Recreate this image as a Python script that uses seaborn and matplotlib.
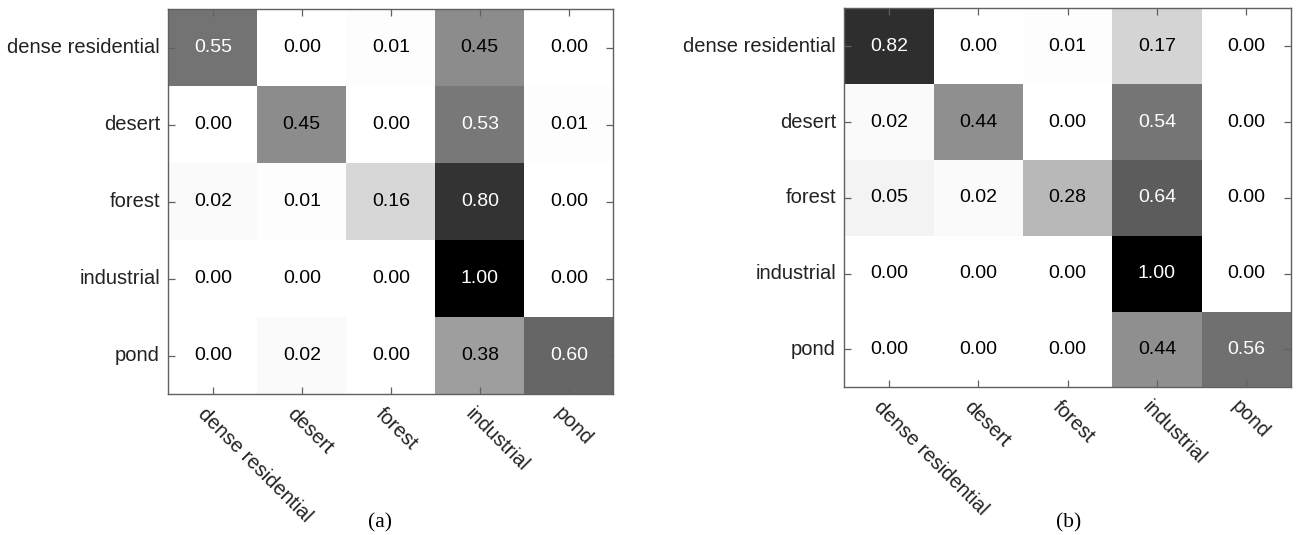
import matplotlib
matplotlib.use("Agg")
import matplotlib.pyplot as plt
import matplotlib.transforms as mtransforms
import numpy as np
import seaborn as sns

classes = ["dense residential", "desert", "forest", "industrial", "pond"]

# confusion matrices (rows = true, cols = predicted)
cm_a = [
    [0.55, 0.00, 0.01, 0.45, 0.00],
    [0.00, 0.45, 0.00, 0.53, 0.01],
    [0.02, 0.01, 0.16, 0.80, 0.00],
    [0.00, 0.00, 0.00, 1.00, 0.00],
    [0.00, 0.02, 0.00, 0.38, 0.60],
]
cm_b = [
    [0.82, 0.00, 0.01, 0.17, 0.00],
    [0.02, 0.44, 0.00, 0.54, 0.00],
    [0.05, 0.02, 0.28, 0.64, 0.00],
    [0.00, 0.00, 0.00, 1.00, 0.00],
    [0.00, 0.00, 0.00, 0.44, 0.56],
]
captions = ["(a)", "(b)"]

plt.rcParams['font.family'] = ['Liberation Sans', 'DejaVu Sans']

W, H = 1297, 535
fig = plt.figure(figsize=(W / 100, H / 100), dpi=100)
# axes boxes in pixels: left, top, right, bottom
boxes = [(168.3, 9.3, 613.3, 394.3), (844.3, 8.3, 1291.0, 387.3)]
caption_x = [380, 1069]


def draw_cm(ax, cm):
    data = np.array(cm)
    sns.heatmap(data, ax=ax, cmap='gray_r', vmin=0, vmax=1, cbar=False,
                annot=True, fmt='.2f', annot_kws={'fontsize': 14},
                xticklabels=classes, yticklabels=classes)
    # white text on dark cells
    for t, v in zip(ax.texts, data.flatten()):
        t.set_color('white' if v > 0.5 else 'black')
    for s in ax.spines.values():
        s.set_visible(True)
        s.set_color('#606060')
        s.set_linewidth(1.0)
    ax.tick_params(direction='in', length=5, width=0.9, color='#606060',
                   top=True, right=True, bottom=True, left=True,
                   labelsize=14.5, labelcolor='#222222')
    ax.tick_params(axis='y', pad=6)
    ax.tick_params(axis='x', pad=7)
    ax.set_yticklabels(classes, rotation=0)
    ax.set_xticklabels(classes, rotation=-45, ha='left', va='top',
                       rotation_mode='anchor')
    offset = mtransforms.ScaledTranslation(-0.05, 0.0, fig.dpi_scale_trans)
    for lbl in ax.get_xticklabels():
        lbl.set_transform(lbl.get_transform() + offset)


for (l, t, r, b), cm, cap, cx in zip(boxes, [cm_a, cm_b], captions, caption_x):
    ax = fig.add_axes([l / W, 1 - b / H, (r - l) / W, (b - t) / H])
    draw_cm(ax, cm)
    fig.text(cx / W, 1 - 523 / H, cap, ha='center', va='center', fontsize=15.5,
             family=['Liberation Serif', 'DejaVu Serif'])

fig.savefig("out.png", dpi=100)
